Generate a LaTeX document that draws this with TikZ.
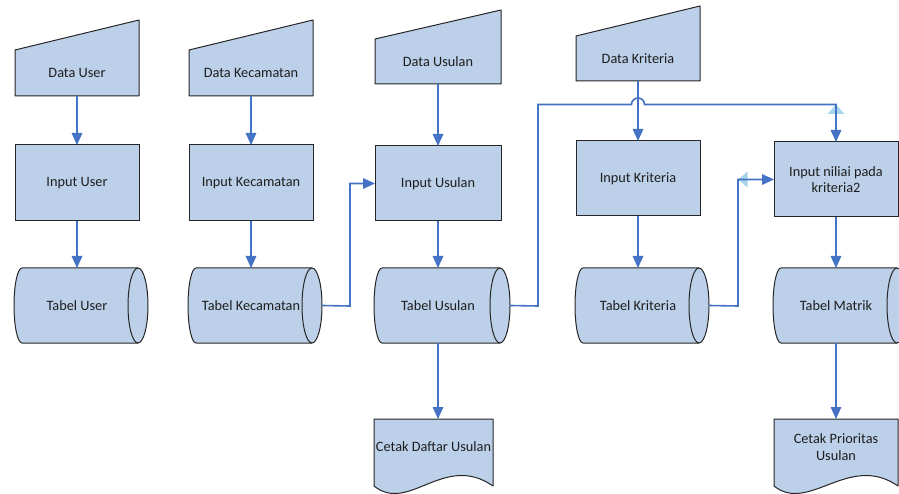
\documentclass[tikz,border=0pt]{standalone}
\usepackage{fontspec}
\setmainfont{Carlito}
\usetikzlibrary{arrows.meta,calc}

\definecolor{boxfill}{HTML}{BCD0E9}
\definecolor{boxline}{HTML}{262626}
\definecolor{flowblue}{HTML}{4472C4}
\definecolor{ghostblue}{HTML}{A8D5EE}
\definecolor{inktext}{HTML}{1E1E1E}

\pgfdeclarelayer{paper}
\pgfdeclarelayer{shapes}
\pgfsetlayers{paper,shapes,main}

\tikzset{
  body/.style={inner sep=0pt, outer sep=0pt, text=inktext, align=center,
               font=\fontsize{14.3}{16.5}\selectfont},
  manin/.style={body, minimum width=124pt, minimum height=46pt},
  procbox/.style={body, draw=boxline, fill=boxfill, line width=1pt,
                  minimum width=124pt, minimum height=76pt},
  store/.style={body, minimum width=124pt, minimum height=75pt},
  docnode/.style={body, minimum width=124pt, minimum height=56pt},
  outline/.style={draw=boxline, fill=boxfill, line width=1pt, line join=round},
  rimline/.style={draw=boxline, line width=1pt},
  flow/.style={draw=flowblue, line width=1.6pt, -{Triangle[length=12pt,width=10.5pt]}},
}

% manual input: rectangle body with a slanted top rising to the right
\newcommand\manualinput[2]{%
  \begin{pgfonlayer}{shapes}
    \path[outline] (#1.south west) -- (#1.south east)
      -- ([yshift=#2]#1.north east) -- (#1.north west) -- cycle;
  \end{pgfonlayer}}

% direct access storage: horizontal drum with a visible right end
\newcommand\drumshape[1]{%
  \begin{pgfonlayer}{shapes}
    \path[outline] ([xshift=7pt]#1.north west) -- ([xshift=-1pt]#1.north east)
      arc[start angle=90, end angle=-90, x radius=10pt, y radius=37.5pt]
      -- ([xshift=7pt]#1.south west)
      arc[start angle=270, end angle=90, x radius=8pt, y radius=37.5pt] -- cycle;
    \path[rimline] ([xshift=-1pt]#1.north east)
      arc[start angle=90, end angle=270, x radius=10pt, y radius=37.5pt];
  \end{pgfonlayer}}

% printed document with a wavy lower edge
\newcommand\docshape[1]{%
  \begin{pgfonlayer}{shapes}
    \path[outline] (#1.north west) -- (#1.north east)
      -- ([yshift=-11pt]#1.south east)
      .. controls +(-49,-34) and +(35,28) .. ([yshift=-11pt]#1.south west)
      -- cycle;
  \end{pgfonlayer}}

\begin{document}
\begin{tikzpicture}[x=1pt, y=-1pt]
  \begin{pgfonlayer}{paper}
    \fill[white] (0,0) rectangle (899,494);
  \end{pgfonlayer}
  \clip (0,0) rectangle (899,494);

  % data sources
  \node[manin] (dUser) at (77,73) {Data User};
  \node[manin] (dKec) at (251,73) {Data Kecamatan};
  \node[manin, minimum width=126pt, minimum height=45pt] (dUsul) at (438,61.5) {Data Usulan};
  \node[manin, minimum height=45pt] (dKrit) at (638,58.5) {Data Kriteria};
  \manualinput{dUser}{30pt}
  \manualinput{dKec}{30pt}
  \manualinput{dUsul}{29pt}
  \manualinput{dKrit}{30pt}

  % processes
  \node[procbox] (iUser) at (77,183) {Input User};
  \node[procbox] (iKec) at (251,183) {Input Kecamatan};
  \node[procbox, minimum width=126pt, minimum height=75pt] (iUsul) at (438,183.5) {Input Usulan};
  \node[procbox, minimum height=75pt] (iKrit) at (638,178.5) {Input Kriteria};
  \node[procbox, minimum height=75pt] (iNilai) at (836,179.5) {Input niliai pada\\kriteria2};

  % tables
  \node[store] (tUser) at (77,305.5) {Tabel User};
  \node[store] (tKec) at (251,305.5) {Tabel Kecamatan};
  \node[store, minimum width=126pt] (tUsul) at (438,305.5) {Tabel Usulan};
  \node[store] (tKrit) at (638,305.5) {Tabel Kriteria};
  \node[store] (tMatrik) at (836,305.5) {Tabel Matrik};
  \drumshape{tUser}
  \drumshape{tKec}
  \drumshape{tUsul}
  \drumshape{tKrit}
  \drumshape{tMatrik}

  % reports
  \node[docnode, minimum width=119pt] (cDaftar) at (433.5,447) {Cetak Daftar Usulan};
  \node[docnode] (cPrior) at (836,447) {Cetak Prioritas\\Usulan};
  \docshape{cDaftar}
  \docshape{cPrior}

  % routing points
  \coordinate (kecRise) at (350,306);
  \coordinate (usulRise) at (538,306);
  \coordinate (busY) at (538,104.5);
  \coordinate (kritRise) at (738,306);

  % faint connection markers
  \fill[ghostblue] (iNilai.north |- busY) -- ++(8.5,9.5) -- ++(-17,0) -- cycle;
  \fill[ghostblue] (kritRise |- iNilai.west) -- ++(9.5,-8) -- ++(0,16) -- cycle;

  % vertical flows
  \draw[flow] (dUser.south) -- (iUser.north);
  \draw[flow] (dKec.south) -- (iKec.north);
  \draw[flow] (dUsul.south) -- (iUsul.north);
  \draw[flow] (dKrit.south) -- (iKrit.north);
  \draw[flow] (iUser.south) -- (tUser.north);
  \draw[flow] (iKec.south) -- (tKec.north);
  \draw[flow] (iUsul.south) -- (tUsul.north);
  \draw[flow] (iKrit.south) -- (tKrit.north);
  \draw[flow] (iNilai.south) -- (tMatrik.north);
  \draw[flow] (tUsul.south) -- (tUsul.south |- cDaftar.north);
  \draw[flow] (tMatrik.south) -- (cPrior.north);

  % routed flows
  \draw[flow] ([xshift=9pt]tKec.east) -- (kecRise) |- (iUsul.west);
  \draw[flow] ([xshift=9pt]tKrit.east) -- (kritRise) |- (iNilai.west);
  \draw[flow] ([xshift=9pt]tUsul.east) -- (usulRise) -- (busY)
    -- ($(dKrit.south |- busY)+(-6.5,0)$)
    arc[start angle=180, end angle=0, radius=6.5pt]
    -- (iNilai.north |- busY) -- (iNilai.north);
\end{tikzpicture}
\end{document}
